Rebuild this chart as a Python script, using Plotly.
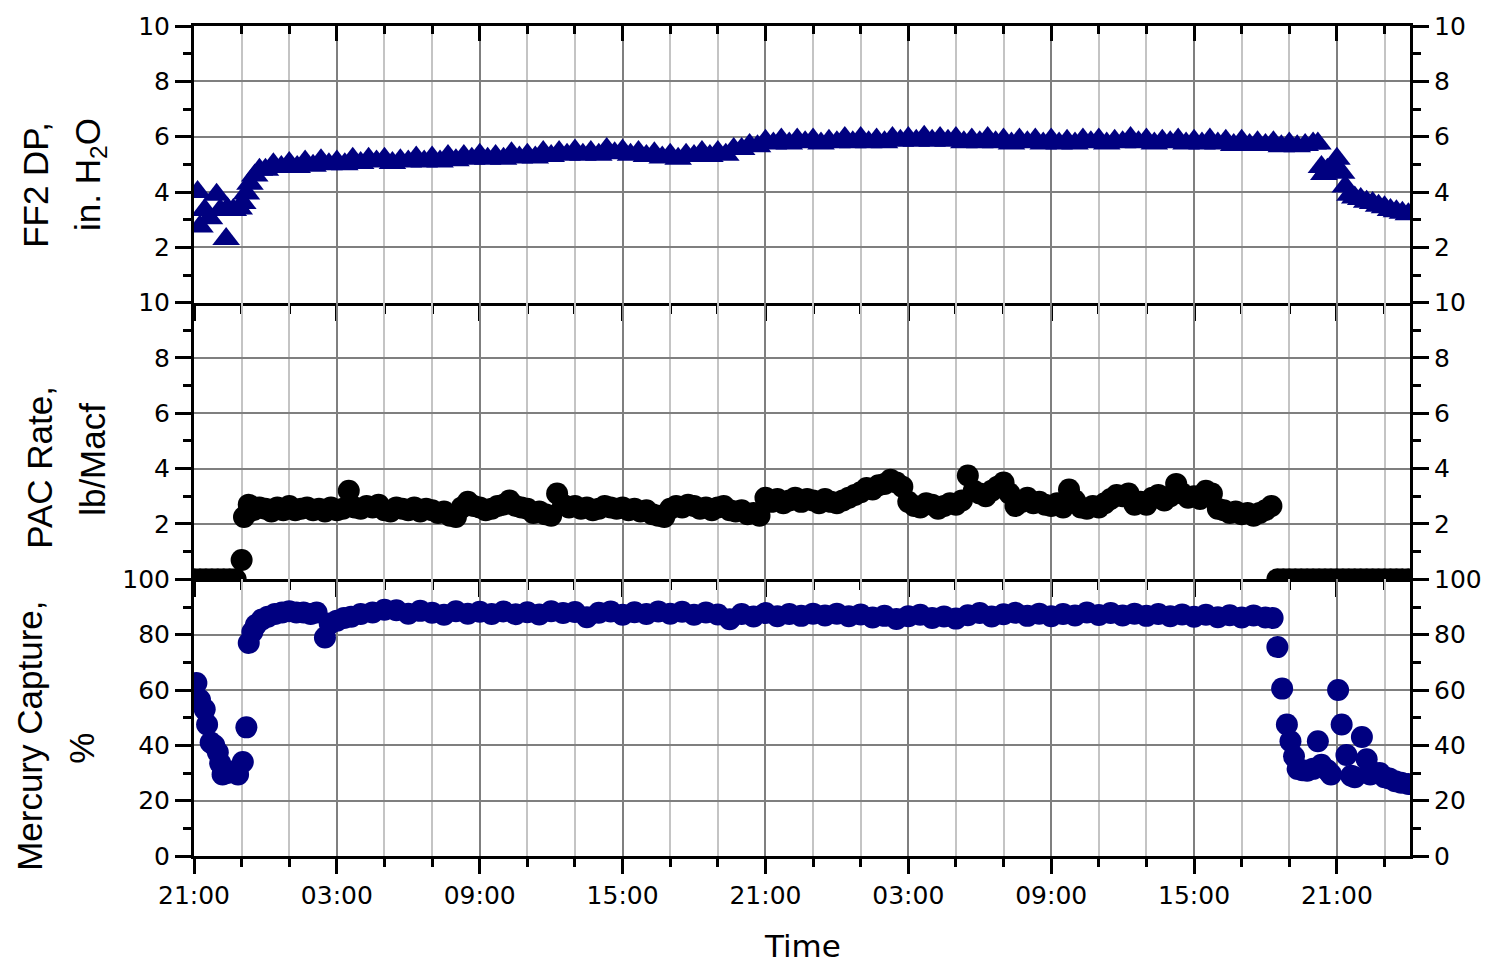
import datetime as dt
import plotly.graph_objects as go

START = dt.datetime(2004, 3, 1, 21, 0)
END_H = 51.07

tick_labels = ["21:00", "03:00", "09:00", "15:00", "21:00", "03:00", "09:00", "15:00", "21:00"]

# ---------------- FF2 DP (in. H2O) ----------------
dp_start_h = [0.15, 0.25, 0.45, 0.65, 0.95, 1.1, 1.35, 1.4, 1.65, 1.9, 2.05, 2.2, 2.35, 2.55, 2.75]
dp_start_v = [4.0, 2.75, 3.35, 3.05, 3.9, 3.35, 2.3, 3.4, 3.35, 3.4, 3.6, 3.95, 4.3, 4.6, 4.8]
dp_mid_t0 = 3.0
dp_mid_step = 1.0 / 3.0
dp_mid_v = [
    4.8, 5.0, 4.9, 5.05, 4.9, 5.1, 4.95, 5.15, 5.0, 5.1, 5.0, 5.2,
    5.05, 5.2, 5.1, 5.2, 5.05, 5.15, 5.1, 5.25, 5.1, 5.25, 5.1, 5.3,
    5.15, 5.3, 5.2, 5.35, 5.2, 5.3, 5.2, 5.4, 5.25, 5.35, 5.25, 5.45,
    5.3, 5.45, 5.35, 5.5, 5.35, 5.45, 5.35, 5.55, 5.4, 5.5, 5.35, 5.45,
    5.3, 5.4, 5.25, 5.35, 5.2, 5.35, 5.3, 5.45, 5.3, 5.45, 5.35, 5.55,
    5.55, 5.7, 5.65, 5.85, 5.75, 5.9, 5.75, 5.9, 5.8, 5.9, 5.75, 5.85,
    5.8, 5.95, 5.8, 5.95, 5.8, 5.9, 5.8, 5.95, 5.85, 5.95, 5.85, 6.0,
    5.85, 5.95, 5.85, 5.95, 5.8, 5.9, 5.8, 5.95, 5.8, 5.9, 5.75, 5.9,
    5.8, 5.9, 5.75, 5.9, 5.75, 5.85, 5.75, 5.9, 5.8, 5.9, 5.75, 5.85,
    5.8, 5.95, 5.8, 5.9, 5.75, 5.85, 5.8, 5.9, 5.75, 5.85, 5.75, 5.9,
    5.75, 5.85, 5.7, 5.85, 5.7, 5.8, 5.7, 5.8, 5.65, 5.75, 5.65, 5.7,
    5.75,
]
dp_end_h = [47.2, 47.35, 47.45, 47.6, 47.8, 48.0, 48.2, 48.35, 48.55, 48.75, 49.0, 49.25,
            49.5, 49.75, 50.0, 50.25, 50.5, 50.75, 51.0]
dp_end_v = [5.75, 4.9, 4.65, 4.8, 4.9, 5.2, 4.7, 4.2, 3.9, 3.8, 3.75, 3.65,
            3.6, 3.5, 3.45, 3.35, 3.3, 3.25, 3.2]

# ---------------- PAC rate (lb/Macf) ----------------
pac_start_h = [0.0, 0.25, 0.5, 0.75, 1.0, 1.25, 1.5, 1.75, 2.0, 2.1, 2.3]
pac_start_v = [0, 0, 0, 0, 0, 0, 0, 0, 0.7, 2.25, 2.7]
pac_mid_t0 = 2.5
pac_mid_step = 0.25
pac_mid_v = [
    2.5, 2.6,
    2.55, 2.45, 2.6, 2.5,
    2.65, 2.5, 2.55, 2.6,
    2.5, 2.55, 2.45, 2.6,
    2.5, 2.55, 3.2, 2.6,
    2.55, 2.65, 2.6, 2.7,
    2.5, 2.45, 2.6, 2.55,
    2.5, 2.6, 2.45, 2.55,
    2.5, 2.4, 2.45, 2.3,
    2.25, 2.6, 2.8, 2.65,
    2.6, 2.5, 2.55, 2.65,
    2.7, 2.85, 2.65, 2.6,
    2.55, 2.4, 2.45, 2.35,
    2.3, 3.1, 2.7, 2.6,
    2.65, 2.55, 2.6, 2.5,
    2.55, 2.65, 2.6, 2.55,
    2.6, 2.5, 2.55, 2.45,
    2.5, 2.35, 2.3, 2.25,
    2.55, 2.65, 2.6, 2.7,
    2.65, 2.55, 2.6, 2.5,
    2.6, 2.65, 2.5, 2.45,
    2.5, 2.35, 2.4, 2.3,
    2.95,
    2.8, 2.9, 2.75,
    2.85, 2.95, 2.8, 2.9,
    2.85, 2.75, 2.9, 2.8,
    2.75, 2.85, 2.95, 3.05,
    3.15, 3.3, 3.25, 3.4,
    3.45, 3.6, 3.5, 3.35,
    2.8, 2.65, 2.6, 2.75,
    2.7, 2.55, 2.65, 2.75,
    2.7, 2.85, 3.75, 3.2,
    3.1, 3.0, 3.2, 3.35,
    3.5, 3.1, 2.65, 2.8,
    2.95, 2.75, 2.8, 2.7,
    2.65, 2.75, 2.6, 3.25,
    2.85, 2.6, 2.55, 2.65,
    2.6, 2.75, 2.9, 3.05,
    3.0, 3.1, 2.7, 2.8,
    2.7, 2.95, 3.05, 2.85,
    3.0, 3.45, 3.1, 2.95,
    3.0, 2.9, 3.2, 3.1,
    2.55, 2.5, 2.4, 2.45,
    2.35, 2.4, 2.3, 2.4,
    2.5,
]
pac_end_h = [45.25, 45.5, 45.75, 46.0, 46.25, 46.5, 46.75, 47.0, 47.25, 47.5, 47.75, 48.0,
             48.25, 48.5, 48.75, 49.0, 49.25, 49.5, 49.75, 50.0, 50.25, 50.5, 50.75, 51.0]
pac_end_v = [2.65, 0, 0, 0, 0, 0, 0, 0, 0, 0, 0, 0,
             0, 0, 0, 0, 0, 0, 0, 0, 0, 0, 0, 0]

# ---------------- Mercury capture (%) ----------------
hg_start_h = [0.1, 0.25, 0.45, 0.55, 0.7, 0.85, 1.0, 1.1, 1.2, 1.4, 1.6, 1.85, 2.05, 2.2,
              2.3, 2.45, 2.6, 2.85, 3.1, 3.4, 3.7, 4.0, 4.3, 4.6, 4.9, 5.15, 5.5, 5.7,
              6.0, 6.3, 6.6, 7.0, 7.5, 8.0]
hg_start_v = [62.5, 56.5, 53.0, 47.5, 41.0, 40.0, 37.5, 33.5, 29.5, 30.0, 30.5, 29.5, 34.0, 46.5,
              77.0, 81.0, 83.5, 85.5, 86.5, 87.5, 88.0, 88.5, 88.0, 88.0, 87.5, 88.0, 79.0, 84.0,
              85.0, 86.0, 86.5, 87.5, 88.0, 89.0]
hg_mid_t0 = 8.5
hg_mid_step = 0.5
hg_mid_v = [
    88.8, 87.6, 88.6, 87.9, 87.2, 88.5, 87.6, 88.3, 87.5, 88.4, 87.4, 88.1,
    87.3, 88.5, 87.8, 88.2, 86.3, 87.9, 88.4, 87.2, 88.1, 87.5, 88.4, 87.6,
    88.3, 87.2, 88.0, 87.3, 85.6, 87.5, 86.6, 87.8, 86.7, 87.5, 86.8, 87.6,
    86.9, 87.6, 86.7, 87.3, 86.2, 86.8, 85.7, 86.7, 87.2, 86.0, 86.6, 85.8,
    87.0, 87.8, 86.6, 87.4, 87.9, 86.8, 87.6, 86.7, 87.5, 86.9, 88.0, 87.1,
    87.8, 86.9, 87.6, 86.8, 87.5, 86.7, 87.3, 86.5, 87.2, 86.3, 87.0, 86.2,
    86.9, 86.2,
]
hg_end_h = [45.3, 45.5, 45.7, 45.9, 46.05, 46.2, 46.35, 46.55, 46.75, 47.0, 47.2, 47.35,
            47.6, 47.75, 48.05, 48.2, 48.4, 48.6, 48.75, 49.05, 49.25, 49.4, 49.6, 49.8,
            50.0, 50.2, 50.45, 50.7, 51.0]
hg_end_v = [86.0, 75.5, 60.5, 47.5, 41.5, 36.0, 31.5, 31.0, 30.8, 31.5, 41.5, 33.0,
            31.0, 29.5, 60.0, 47.5, 36.5, 29.0, 28.5, 43.0, 35.0, 29.5, 30.0, 30.0,
            28.5, 28.0, 27.0, 26.5, 26.0]


def to_time(hours):
    return [START + dt.timedelta(hours=h) for h in hours]


def series(start_h, start_v, t0, step, mid_v, end_h, end_v):
    hours = list(start_h) + [t0 + i * step for i in range(len(mid_v))] + list(end_h)
    vals = list(start_v) + list(mid_v) + list(end_v)
    return to_time(hours), vals


dp_t, dp_v = series(dp_start_h, dp_start_v, dp_mid_t0, dp_mid_step, dp_mid_v, dp_end_h, dp_end_v)
pac_t, pac_v = series(pac_start_h, pac_start_v, pac_mid_t0, pac_mid_step, pac_mid_v, pac_end_h, pac_end_v)
hg_t, hg_v = series(hg_start_h, hg_start_v, hg_mid_t0, hg_mid_step, hg_mid_v, hg_end_h, hg_end_v)

NAVY = "#000080"
fig = go.Figure()
fig.add_trace(go.Scatter(x=dp_t, y=dp_v, mode="markers", xaxis="x", yaxis="y",
                         marker=dict(symbol="triangle-up", size=24, color=NAVY, line=dict(width=0)),
                         showlegend=False, hoverinfo="skip"))
fig.add_trace(go.Scatter(x=pac_t, y=pac_v, mode="markers", xaxis="x2", yaxis="y2",
                         marker=dict(symbol="circle", size=22, color="black", line=dict(width=0)),
                         showlegend=False, hoverinfo="skip"))
fig.add_trace(go.Scatter(x=hg_t, y=hg_v, mode="markers", xaxis="x3", yaxis="y3",
                         marker=dict(symbol="circle", size=22, color=NAVY, line=dict(width=0)),
                         showlegend=False, hoverinfo="skip"))
# empty traces so the overlay axes get drawn
for xa, ya in [("x4", "y"), ("x", "y4"), ("x2", "y5"), ("x3", "y6")]:
    fig.add_trace(go.Scatter(x=[START], y=[None], xaxis=xa, yaxis=ya, mode="markers",
                             showlegend=False, hoverinfo="skip"))

TICKFONT = dict(family="DejaVu Sans", size=25, color="black")
xrange_ = [START, START + dt.timedelta(hours=END_H)]
major_ticks = [START + dt.timedelta(hours=6 * i) for i in range(len(tick_labels))]


def xaxis(anchor, labels, ticks="outside", grid=True, **kw):
    d = dict(type="date", range=xrange_, anchor=anchor, tickmode="array",
             tickvals=major_ticks, ticktext=tick_labels, showticklabels=labels,
             ticks=ticks, ticklen=15, tickwidth=3, tickcolor="black",
             showline=True, linewidth=3, linecolor="black", zeroline=False,
             showgrid=grid, gridcolor="#7f7f7f", gridwidth=2, tickfont=TICKFONT,
             minor=dict(tick0=START, dtick=2 * 3600 * 1000, ticks=ticks, ticklen=8,
                        tickwidth=3, tickcolor="black", showgrid=grid,
                        gridcolor="#c4c4c4", gridwidth=2),
             fixedrange=True)
    d.update(kw)
    return d


def yaxis(domain, rng, tickvals, minor_vals, anchor, side="left", grid=True, **kw):
    d = dict(range=rng, anchor=anchor, side=side, tickmode="array", tickvals=tickvals,
             ticks="outside", ticklen=16, tickwidth=3, tickcolor="black",
             showline=True, linewidth=3, linecolor="black", zeroline=False,
             showgrid=grid, gridcolor="#7f7f7f", gridwidth=2, tickfont=TICKFONT,
             minor=dict(tickvals=minor_vals, ticks="outside", ticklen=8, tickwidth=3,
                        tickcolor="black", showgrid=False),
             fixedrange=True)
    if domain is not None:
        d["domain"] = domain
    d.update(kw)
    return d


dp_ticks = [2, 4, 6, 8, 10]
dp_minor = [1, 3, 5, 7, 9]
hg_ticks = [0, 20, 40, 60, 80, 100]
hg_minor = [10, 30, 50, 70, 90]

MARGIN_T, MARGIN_B = 20, 108

fig.update_layout(
    width=1497, height=964,
    margin=dict(l=194, r=87, t=MARGIN_T, b=MARGIN_B),
    paper_bgcolor="white", plot_bgcolor="white",
    xaxis=xaxis("y", False),
    xaxis2=xaxis("y2", False),
    xaxis3=xaxis("y3", True),
    xaxis4=xaxis("y", False, ticks="inside", grid=False, overlaying="x", side="top"),
    yaxis=yaxis([2 / 3, 1], [0, 10], dp_ticks, dp_minor, "x"),
    yaxis2=yaxis([1 / 3, 2 / 3], [0, 10], dp_ticks, dp_minor, "x2"),
    yaxis3=yaxis([0, 1 / 3], [0, 100], hg_ticks, hg_minor, "x3"),
    yaxis4=yaxis(None, [0, 10], dp_ticks, dp_minor, "x", side="right", grid=False, overlaying="y"),
    yaxis5=yaxis(None, [0, 10], dp_ticks, dp_minor, "x2", side="right", grid=False, overlaying="y2"),
    yaxis6=yaxis(None, [0, 100], hg_ticks, hg_minor, "x3", side="right", grid=False, overlaying="y3"),
)

PLOT_L, PLOT_W = 194, 1216
PLOT_B = 964 - MARGIN_B
PLOT_H = 964 - MARGIN_T - MARGIN_B


def px(xp):
    return (xp - PLOT_L) / PLOT_W


def py(yp):
    return (PLOT_B - yp) / PLOT_H


TITLEFONT = dict(family="Liberation Sans", size=35, color="black")
titles = [
    ("FF2 DP,", 36, 180),
    ("in. H<sub>2</sub>O", 90, 170),
    ("PAC Rate,", 40, 465),
    ("lb/Macf", 93, 457),
    ("Mercury Capture,", 30, 735),
    ("%", 82, 748),
]
for text, xp, yp in titles:
    fig.add_annotation(text=text, x=px(xp), y=py(yp), xref="paper", yref="paper",
                       textangle=-90, showarrow=False, xanchor="center", yanchor="middle",
                       font=TITLEFONT)
fig.add_annotation(text="Time", x=px(802), y=py(947), xref="paper", yref="paper",
                   showarrow=False, xanchor="center", yanchor="middle",
                   font=dict(family="DejaVu Sans", size=31, color="black"))

fig.write_html("out.html", config={"displayModeBar": False},
               post_script="document.body.style.margin='0';document.body.style.overflow='hidden';")
